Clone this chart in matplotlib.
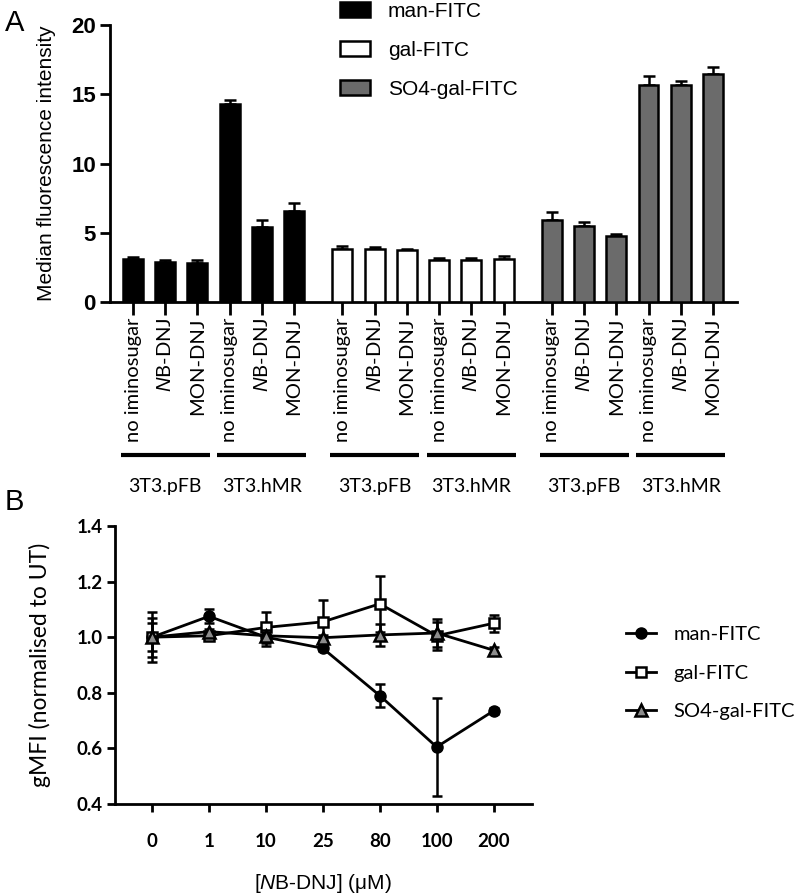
import numpy as np
import matplotlib.pyplot as plt
import matplotlib.transforms as mtransforms
from matplotlib.lines import Line2D
from matplotlib.patches import Patch

plt.rcParams['mathtext.fontset'] = 'custom'
plt.rcParams['mathtext.it'] = 'Liberation Sans:italic'
plt.rcParams['mathtext.rm'] = 'Liberation Sans'

# ---------------- data: panel A ----------------
treatments = ['no iminosugar', r'$\mathit{N}$B-DNJ', 'MON-DNJ']
cell_lines = ['3T3.pFB', '3T3.hMR']
probes = ['man-FITC', 'gal-FITC', 'SO4-gal-FITC']
probe_colors = ['black', 'white', '#6b6b6b']

man_vals = [3.1, 2.9, 2.8, 14.3, 5.4, 6.6]
man_err = [0.15, 0.1, 0.25, 0.3, 0.5, 0.55]
gal_vals = [3.85, 3.85, 3.75, 3.0, 3.0, 3.1]
gal_err = [0.2, 0.12, 0.1, 0.2, 0.2, 0.2]
so4_vals = [5.9, 5.5, 4.75, 15.7, 15.65, 16.45]
so4_err = [0.6, 0.25, 0.15, 0.6, 0.3, 0.5]

# ---------------- data: panel B ----------------
conc = ['0', '1', '10', '25', '80', '100', '200']
man_b = [1.0, 1.075, 1.0, 0.96, 0.79, 0.605, 0.735]
man_b_err = [0.07, 0.025, 0.03, 0.01, 0.04, 0.175, 0.01]
gal_b = [1.0, 1.005, 1.035, 1.055, 1.12, 1.005, 1.05]
gal_b_err = [0.09, 0.01, 0.055, 0.08, 0.1, 0.05, 0.03]
so4_b = [1.0, 1.02, 1.005, 0.998, 1.008, 1.015, 0.953]
so4_b_err = [0.05, 0.01, 0.02, 0.01, 0.04, 0.05, 0.01]

fig = plt.figure(figsize=(7.96, 8.96), dpi=100)

# ================= panel A =================
axA = fig.add_axes([0.138, 0.663, 0.788, 0.309])
all_vals = [man_vals, gal_vals, so4_vals]
all_errs = [man_err, gal_err, so4_err]
positions = []
for g, (vals, errs) in enumerate(zip(all_vals, all_errs)):
    x = g * 6.5 + np.arange(len(vals))
    positions.extend(x)
    axA.bar(x, vals, width=0.62, color=probe_colors[g], edgecolor='black',
            linewidth=1.8, zorder=3)
    axA.errorbar(x, vals, yerr=[np.zeros(len(errs)), errs], fmt='none',
                 ecolor='black', elinewidth=1.8, capsize=4.5, capthick=1.8, zorder=2)

axA.set_xlim(-0.72, 18.75)
axA.set_ylim(0, 20)
axA.set_yticks([0, 5, 10, 15, 20])
axA.set_xticks(positions)
axA.set_xticklabels(treatments * 6, rotation=90, family='Lato', fontsize=14.5)
for lab in axA.get_yticklabels():
    lab.set_family('Liberation Sans')
    lab.set_fontweight('bold')
    lab.set_fontsize(16)
axA.tick_params(axis='y', direction='out', length=7, width=2, pad=3)
axA.tick_params(axis='x', direction='out', length=9, width=2, pad=2)
for s in ['top', 'right']:
    axA.spines[s].set_visible(False)
for s in ['left', 'bottom']:
    axA.spines[s].set_linewidth(2)
axA.set_ylabel('Median fluorescence intensity', family='Liberation Sans',
               fontsize=15, labelpad=11)

# group brackets under tick labels
trans = mtransforms.blended_transform_factory(axA.transData, axA.transAxes)
for g in range(3):
    for c, cl in enumerate(cell_lines):
        start = g * 6.5 + c * 3
        axA.plot([start - 0.38, start + 2.38], [-0.552, -0.552], color='black',
                 lw=3, transform=trans, clip_on=False, solid_capstyle='butt')
        axA.text(start + 1, -0.665, cl, transform=trans, ha='center', va='center',
                 family='Lato', fontsize=14)

handles = [Patch(facecolor=c, edgecolor='black', linewidth=1.8) for c in probe_colors]
fig.legend(handles, probes, loc='upper left', bbox_to_anchor=(340 / 796, 1 - 2 / 896),
           frameon=False, borderpad=0, borderaxespad=0, handlelength=1.45,
           handleheight=0.75, handletextpad=0.85, labelspacing=0.95,
           prop={'family': 'Liberation Sans', 'size': 15})

fig.text(0.006, 0.99, 'A', family='Liberation Sans', fontsize=21, va='top')

# ================= panel B =================
axB = fig.add_axes([0.1445, 0.1027, 0.5235, 0.3103])
xb = np.arange(len(conc))
axB.errorbar(xb, man_b, yerr=man_b_err, color='black', lw=2, marker='o', ms=8,
             mfc='black', mec='black', capsize=3.5, elinewidth=1.8, capthick=1.8,
             label='man-FITC', zorder=3)
axB.errorbar(xb, gal_b, yerr=gal_b_err, color='black', lw=2, marker='s', ms=7.5,
             mfc='white', mec='black', mew=1.8, capsize=3.5, elinewidth=1.8,
             capthick=1.8, label='gal-FITC', zorder=4)
axB.errorbar(xb, so4_b, yerr=so4_b_err, color='black', lw=2, marker='^', ms=8,
             mfc='#8c8c8c', mec='black', mew=1.8, capsize=3.5, elinewidth=1.8,
             capthick=1.8, label='SO4-gal-FITC', zorder=5)

axB.set_xlim(-0.65, 6.67)
axB.set_ylim(0.4, 1.4)
axB.set_yticks([0.4, 0.6, 0.8, 1.0, 1.2, 1.4])
axB.set_yticklabels(['0.4', '0.6', '0.8', '1.0', '1.2', '1.4'])
axB.set_xticks(xb)
axB.set_xticklabels(conc)
for lab in axB.get_xticklabels() + axB.get_yticklabels():
    lab.set_family('Lato')
    lab.set_fontweight('bold')
    lab.set_fontsize(13.5)
axB.tick_params(axis='y', direction='out', length=6, width=2, pad=3)
axB.tick_params(axis='x', direction='out', length=6, width=2, pad=15)
for s in ['top', 'right']:
    axB.spines[s].set_visible(False)
for s in ['left', 'bottom']:
    axB.spines[s].set_linewidth(2)
axB.set_ylabel('gMFI (normalised to UT)', family='Lato', fontsize=16.5, labelpad=18)
axB.set_xlabel(r'[$\mathit{N}$B-DNJ] ($\mathrm{\mu}$M)', family='Liberation Sans',
               fontsize=15, labelpad=16)

leg_handles = [
    Line2D([0], [0], color='black', lw=2, marker='o', ms=8, mfc='black', mec='black'),
    Line2D([0], [0], color='black', lw=2, marker='s', ms=7.5, mfc='white', mec='black', mew=1.8),
    Line2D([0], [0], color='black', lw=2, marker='^', ms=8, mfc='#8c8c8c', mec='black', mew=1.8),
]
fig.legend(leg_handles, probes, loc='center left', bbox_to_anchor=(626 / 796, 1 - 673 / 896),
           frameon=False, borderpad=0, borderaxespad=0, handlelength=1.5,
           handletextpad=0.85, labelspacing=1.05, prop={'family': 'Lato', 'size': 14.5})

fig.text(0.006, 0.455, 'B', family='Liberation Sans', fontsize=21, va='top')

fig.savefig('out.png', dpi=100)
